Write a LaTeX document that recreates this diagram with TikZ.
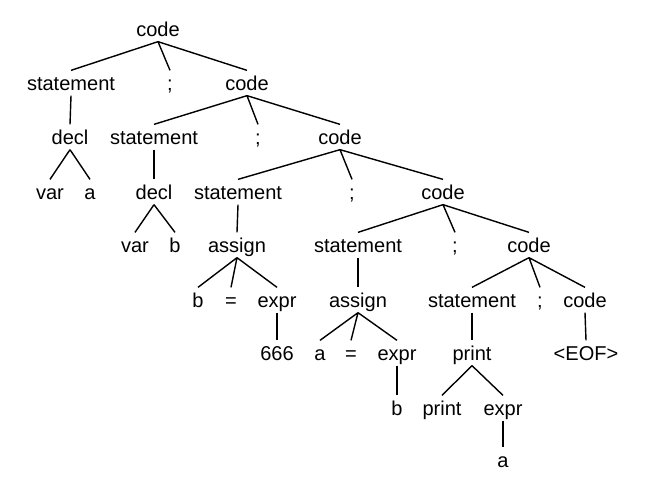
\documentclass[tikz,border=0pt]{standalone}
\usepackage{fontspec}
\setmainfont{Liberation Sans}

\begin{document}
\begin{tikzpicture}[scale=1,
    tok/.style={inner xsep=2pt, inner ysep=1.5pt, text height=9.5pt, text depth=1.5pt,
      font=\fontsize{11.4}{13.7}\selectfont},
    edge/.style={line width=0.8pt}]
        % \draw[help lines, gray!50, very thin] (0,0) grid (13,-10);
        \useasboundingbox (0,0) rectangle (13.08,-9.8);

        % level 0
        \node[tok] (c1) at (3.16,-0.58) {code};

        % level 1
        \node[tok] (s1) at (1.42,-1.66) {statement};
        \node[tok] (sc1) at (3.40,-1.66) {;};
        \node[tok] (c2) at (4.94,-1.66) {code};

        % level 2
        \node[tok] (d1) at (1.40,-2.74) {decl};
        \node[tok] (s2) at (3.08,-2.74) {statement};
        \node[tok] (sc2) at (5.16,-2.74) {;};
        \node[tok] (c3) at (6.80,-2.74) {code};

        % level 3
        \node[tok] (v1) at (1.00,-3.84) {var};
        \node[tok] (a1) at (1.80,-3.84) {a};
        \node[tok] (d2) at (3.08,-3.84) {decl};
        \node[tok] (s3) at (4.76,-3.84) {statement};
        \node[tok] (sc3) at (7.04,-3.84) {;};
        \node[tok] (c4) at (8.86,-3.84) {code};

        % level 4
        \node[tok] (v2) at (2.70,-4.90) {var};
        \node[tok] (b2) at (3.50,-4.90) {b};
        \node[tok] (as3) at (4.74,-4.90) {assign};
        \node[tok] (s4) at (7.16,-4.90) {statement};
        \node[tok] (sc4) at (9.10,-4.90) {;};
        \node[tok] (c5) at (10.58,-4.90) {code};

        % level 5
        \node[tok] (b3) at (3.96,-6.00) {b};
        \node[tok] (eq3) at (4.62,-6.00) {=};
        \node[tok] (e3) at (5.54,-6.00) {expr};
        \node[tok] (as4) at (7.16,-6.00) {assign};
        \node[tok] (s5) at (9.44,-6.00) {statement};
        \node[tok] (sc5) at (10.80,-6.00) {;};
        \node[tok] (c6) at (11.70,-6.00) {code};

        % level 6
        \node[tok] (n3) at (5.54,-7.06) {666};
        \node[tok] (a4) at (6.40,-7.06) {a};
        \node[tok] (eq4) at (7.02,-7.06) {=};
        \node[tok] (e4) at (7.94,-7.06) {expr};
        \node[tok] (p5) at (9.44,-7.06) {print};
        \node[tok] (eof) at (11.72,-7.06) {<EOF>};

        % level 7 and 8
        \node[tok] (b4) at (7.94,-8.16) {b};
        \node[tok] (pk5) at (8.84,-8.16) {print};
        \node[tok] (e5) at (10.06,-8.16) {expr};
        \node[tok] (a5) at (10.06,-9.20) {a};

        % edges
        \draw[edge] (c1.south) -- (s1.north) (c1.south) -- (sc1.north) (c1.south) -- (c2.north);
        \draw[edge] (s1.south) -- (d1.north);
        \draw[edge] (d1.south) -- (v1.north) (d1.south) -- (a1.north);
        \draw[edge] (c2.south) -- (s2.north) (c2.south) -- (sc2.north) (c2.south) -- (c3.north);
        \draw[edge] (s2.south) -- (d2.north);
        \draw[edge] (d2.south) -- (v2.north) (d2.south) -- (b2.north);
        \draw[edge] (c3.south) -- (s3.north) (c3.south) -- (sc3.north) (c3.south) -- (c4.north);
        \draw[edge] (s3.south) -- (as3.north);
        \draw[edge] (as3.south) -- (b3.north) (as3.south) -- (eq3.north) (as3.south) -- (e3.north);
        \draw[edge] (e3.south) -- (n3.north);
        \draw[edge] (c4.south) -- (s4.north) (c4.south) -- (sc4.north) (c4.south) -- (c5.north);
        \draw[edge] (s4.south) -- (as4.north);
        \draw[edge] (as4.south) -- (a4.north) (as4.south) -- (eq4.north) (as4.south) -- (e4.north);
        \draw[edge] (e4.south) -- (b4.north);
        \draw[edge] (c5.south) -- (s5.north) (c5.south) -- (sc5.north) (c5.south) -- (c6.north);
        \draw[edge] (s5.south) -- (p5.north);
        \draw[edge] (p5.south) -- (pk5.north) (p5.south) -- (e5.north);
        \draw[edge] (e5.south) -- (a5.north);
        \draw[edge] (c6.south) -- (eof.north);
      \end{tikzpicture}
\end{document}
